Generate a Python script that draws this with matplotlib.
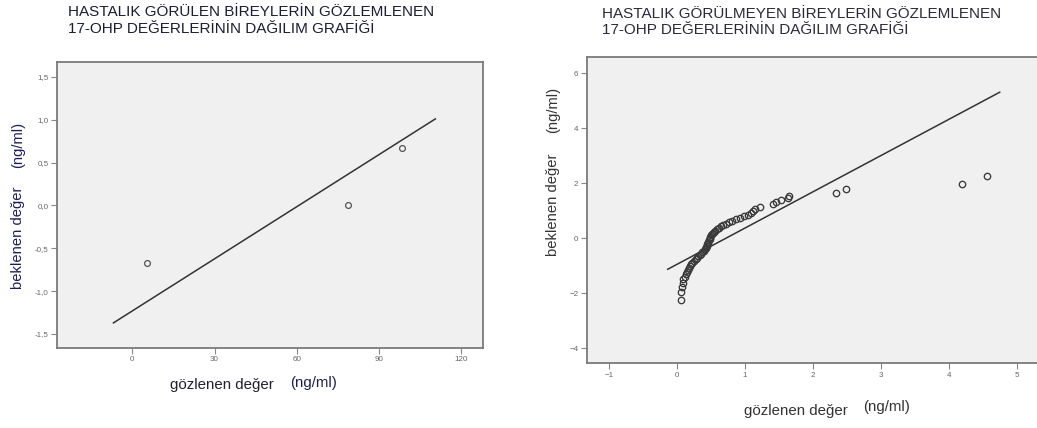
import numpy as np
import matplotlib
matplotlib.use("Agg")
import matplotlib.pyplot as plt
from matplotlib.ticker import FuncFormatter

W, H = 1037, 428

# left panel: patients (3 observations)
sick_obs = [5.4, 78.6, 98.4]
sick_exp = [-0.674, 0.0, 0.674]
sick_line_x = [-6.9, 110.6]
sick_line_y = [-1.37, 1.01]
sick_xticks = [0, 30, 60, 90, 120]
sick_yticks = [-1.5, -1.0, -0.5, 0.0, 0.5, 1.0, 1.5]

# right panel: healthy individuals
healthy_obs = [0.05, 0.06, 0.07, 0.08, 0.09, 0.11, 0.13, 0.15, 0.16, 0.18,
               0.19, 0.21, 0.22, 0.25, 0.27, 0.29, 0.31, 0.33, 0.35, 0.37,
               0.39, 0.41, 0.42, 0.43, 0.44, 0.44, 0.45, 0.46, 0.47, 0.48,
               0.49, 0.49, 0.50, 0.51, 0.53, 0.54, 0.56, 0.58, 0.61, 0.64,
               0.68, 0.72, 0.76, 0.80, 0.86, 0.93, 0.98, 1.04, 1.08, 1.11,
               1.15, 1.22, 1.41, 1.46, 1.53, 1.63, 1.64, 2.34, 2.49, 4.20, 4.56]
healthy_exp = [-2.24, -1.94, -1.76, -1.62, -1.50, -1.40, -1.31, -1.23, -1.15, -1.08,
               -1.01, -0.95, -0.89, -0.83, -0.77, -0.72, -0.66, -0.61, -0.56, -0.51,
               -0.46, -0.41, -0.36, -0.31, -0.27, -0.22, -0.17, -0.13, -0.08, -0.04,
               0.01, 0.05, 0.10, 0.14, 0.19, 0.24, 0.28, 0.33, 0.38, 0.43,
               0.48, 0.53, 0.58, 0.63, 0.69, 0.75, 0.80, 0.86, 0.93, 1.00,
               1.07, 1.15, 1.24, 1.30, 1.38, 1.45, 1.52, 1.66, 1.79, 1.97, 2.27]
healthy_line_x = [-0.14, 4.75]
healthy_line_y = [-1.13, 5.31]
healthy_xticks = [-1, 0, 1, 2, 3, 4, 5]
healthy_yticks = [-4, -2, 0, 2, 4, 6]

title_sick = "HASTALIK GÖRÜLEN BİREYLERİN GÖZLEMLENEN\n17-OHP DEĞERLERİNİN DAĞILIM GRAFİĞİ"
title_healthy = "HASTALIK GÖRÜLMEYEN BİREYLERİN GÖZLEMLENEN\n17-OHP DEĞERLERİNİN DAĞILIM GRAFİĞİ"

plt.rcParams['font.family'] = ['Liberation Sans', 'DejaVu Sans']

fig = plt.figure(figsize=(W / 100, H / 100), dpi=100)


def box(l, t, r, b):
    return [l / W, 1 - b / H, (r - l) / W, (b - t) / H]


def px(x, y):
    return x / W, 1 - y / H


def style(ax):
    ax.set_facecolor('#f0f0f0')
    for s in ax.spines.values():
        s.set_color('#7a7a7a')
        s.set_linewidth(1.3)
    ax.tick_params(length=4, width=0.8, color='#888888', labelsize=5.8,
                   labelcolor='#666666', pad=2)


comma = FuncFormatter(lambda v, p: f"{v:.1f}".replace('.', ','))

# left chart
ax1 = fig.add_axes(box(57, 62, 483, 348))
style(ax1)
ax1.plot(sick_line_x, sick_line_y, color='#333333', lw=1.1)
ax1.plot(sick_obs, sick_exp, 'o', mfc='none', mec='#555555', ms=4.2, mew=0.9)
ax1.set_xlim(-27.5, 128)
ax1.set_ylim(-1.663, 1.674)
ax1.set_xticks(sick_xticks)
ax1.set_yticks(sick_yticks)
ax1.yaxis.set_major_formatter(comma)

# right chart
ax2 = fig.add_axes(box(586.7, 57.3, 1039.3, 363.3))
style(ax2)
ax2.plot(healthy_line_x, healthy_line_y, color='#333333', lw=1.1)
ax2.plot(healthy_obs, healthy_exp, 'o', mfc='none', mec='#3a3a3a', ms=4.6, mew=0.95)
ax2.set_xlim(-1.333, 5.333)
ax2.set_ylim(-4.55, 6.58)
ax2.set_xticks(healthy_xticks)
ax2.set_yticks(healthy_yticks)

# titles
fig.text(*px(68, 20.5), title_sick, fontsize=11, color='#1c1c38',
         va='center', ha='left', linespacing=1.2)
fig.text(*px(601.7, 22), title_healthy, fontsize=11, color='#2a2a3a',
         va='center', ha='left', linespacing=1.2)

# axis labels, left chart
fig.text(*px(18, 238), "beklenen değer", rotation=90, fontsize=10.6,
         color='#1a1f55', ha='center', va='center')
fig.text(*px(18, 145), "(ng/ml)", rotation=90, fontsize=10.6,
         color='#1a1f55', ha='center', va='center')
fig.text(*px(221.5, 385), "gözlenen değer", fontsize=10.8,
         color='#202030', ha='center', va='center')
fig.text(*px(313.5, 383), "(ng/ml)", fontsize=10.8,
         color='#202050', ha='center', va='center')

# axis labels, right chart
fig.text(*px(553, 204.5), "beklenen değer", rotation=90, fontsize=10.6,
         color='#333333', ha='center', va='center')
fig.text(*px(553, 110), "(ng/ml)", rotation=90, fontsize=10.6,
         color='#333333', ha='center', va='center')
fig.text(*px(795.5, 410.7), "gözlenen değer", fontsize=10.8,
         color='#333333', ha='center', va='center')
fig.text(*px(887, 407), "(ng/ml)", fontsize=10.8,
         color='#333333', ha='center', va='center')

fig.savefig("out.png", dpi=100)
